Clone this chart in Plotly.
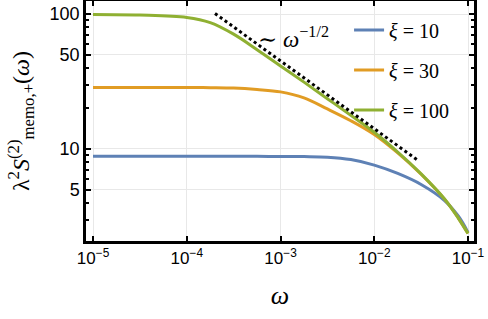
import plotly.graph_objects as go

omega = [1e-5, 3.16e-5, 1e-4, 1.78e-4, 3.16e-4, 5.62e-4, 1e-3, 1.78e-3,
         3.16e-3, 5.62e-3, 1e-2, 1.78e-2, 3.16e-2, 5.62e-2, 7.94e-2, 1e-1]
s_xi10 = [8.85, 8.85, 8.85, 8.85, 8.85, 8.83, 8.8, 8.78, 8.7, 8.35, 7.6, 6.59,
          5.46, 4.15, 3.16, 2.41]
s_xi30 = [28.6, 28.6, 28.6, 28.5, 28.3, 27.6, 26.5, 23.9, 19.8, 16.2, 12.8,
          9.35, 6.5, 4.25, 3.05, 2.36]
s_xi100 = [99.5, 98.5, 94.5, 86.5, 71, 54.5, 41.3, 31.3, 23.6, 17.8, 13.3,
           9.49, 6.54, 4.26, 3.05, 2.36]
asym_omega = [2.0e-4, 2.88e-2]
asym_s = [101, 8.3]

names = ["<i>ξ</i> = 10", "<i>ξ</i> = 30", "<i>ξ</i> = 100"]
colors = ["#5E81B5", "#E19C24", "#8FB032"]
x_ticks = [1e-5, 1e-4, 1e-3, 1e-2, 1e-1]
x_ticktext = ["10<sup>−5</sup>", "10<sup>−4</sup>", "10<sup>−3</sup>",
              "10<sup>−2</sup>", "10<sup>−1</sup>"]
y_ticks = [5, 10, 50, 100]
y_minor = [3, 4, 6, 7, 8, 9, 20, 30, 40, 60, 70, 80, 90]

fig = go.Figure()
for i, s in enumerate([s_xi10, s_xi30, s_xi100]):
    fig.add_trace(go.Scatter(
        x=omega, y=s, mode="lines", name=names[i], legendgroup=str(i),
        line=dict(color=colors[i], width=3, shape="spline", smoothing=1.0)))
fig.add_trace(go.Scatter(
    x=asym_omega, y=asym_s, mode="lines", showlegend=False,
    line=dict(color="black", width=3, dash="dot")))

serif = "Liberation Serif, DejaVu Serif, serif"
sans = "Liberation Sans, Arial, sans-serif"

fig.update_layout(
    width=488, height=319,
    margin=dict(l=86, r=14, t=1, b=78),
    paper_bgcolor="white", plot_bgcolor="white",
    legend=dict(x=0.678, y=0.96, xanchor="left", yanchor="top",
                font=dict(family=serif, size=20, color="black"),
                bgcolor="rgba(0,0,0,0)", tracegroupgap=11,
                itemwidth=30),
    annotations=[dict(
        x=0.535, y=0.915, xref="paper", yref="paper", showarrow=False,
        text="∼ <i>ω</i><sup>−1/2</sup>",
        font=dict(family=serif, size=23, color="black"))],
)
fig.update_xaxes(
    type="log", range=[-5.075, -0.936], automargin=False,
    tickvals=x_ticks, ticktext=x_ticktext,
    tickfont=dict(family=sans, size=17, color="black"),
    ticks="inside", ticklen=5, tickwidth=2, tickcolor="black",
    showline=True, linecolor="black", linewidth=2.5, mirror="allticks",
    showgrid=True, gridcolor="#e8e8e8", gridwidth=1, zeroline=False,
    title=dict(text="<i>ω</i>", font=dict(family=serif, size=26, color="black"),
               standoff=19),
)
fig.update_yaxes(
    type="log", range=[0.318, 2.097], automargin=False,
    tickvals=y_ticks, ticktext=[str(v) for v in y_ticks],
    tickfont=dict(family=sans, size=18, color="black"),
    ticks="inside", ticklen=5, tickwidth=2, tickcolor="black",
    minor=dict(tickvals=y_minor, ticks="inside", ticklen=3, tickwidth=1.5,
               tickcolor="black", showgrid=False),
    showline=True, linecolor="black", linewidth=2.5, mirror="allticks",
    showgrid=True, gridcolor="#e8e8e8", gridwidth=1, zeroline=False,
    title=dict(text="λ<sup>2</sup><i>S</i><sup>(2)</sup><sub>memo,+</sub>(<i>ω</i>)",
               font=dict(family=serif, size=24, color="black"), standoff=14),
)
fig.write_html("out.html", config={"displayModeBar": False},
               post_script="document.body.style.margin='0';document.body.style.padding='0';")
